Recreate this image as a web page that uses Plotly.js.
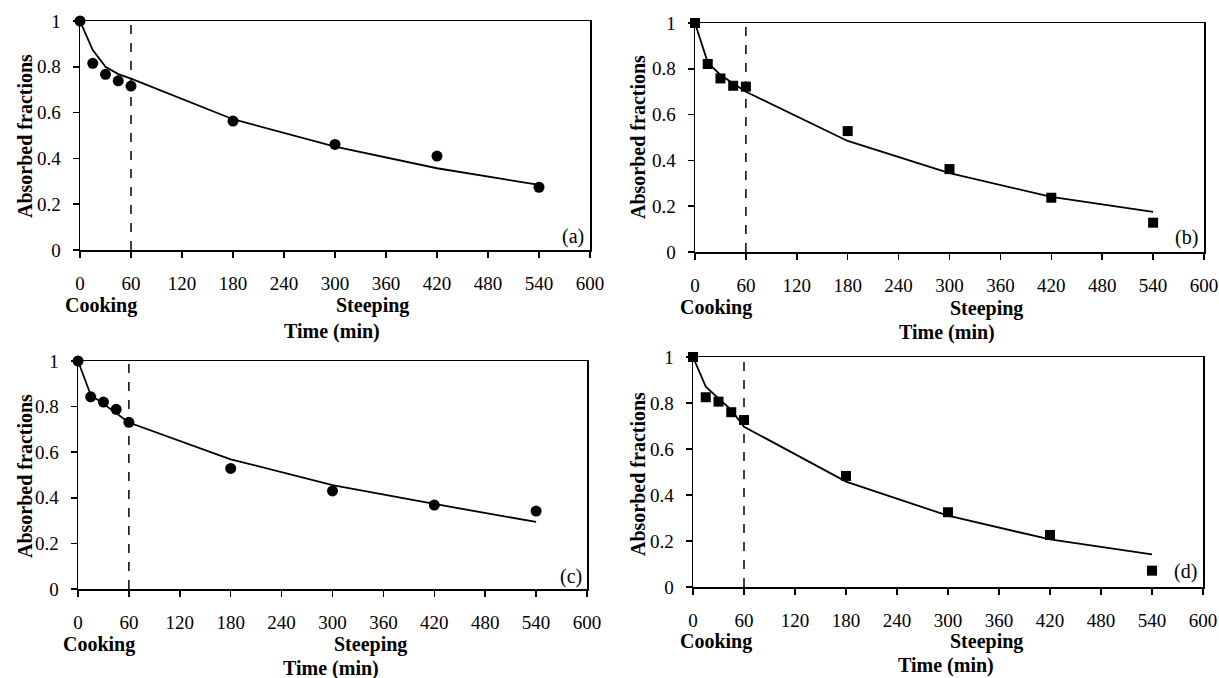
<!DOCTYPE html>
<html>
<head>
<meta charset="utf-8">
<script src="https://cdn.plot.ly/plotly-3.0.1.min.js"></script>
<style>html,body{margin:0;padding:0;background:#fff}#chart{width:1219px;height:678px}</style>
</head>
<body>
<div id="chart"></div>
<script>
// ---- data ----
const timeMin = [0, 15, 30, 45, 60, 180, 300, 420, 540];
const cookingEnd = 60;

const expA = [1, 0.815, 0.767, 0.739, 0.716, 0.563, 0.461, 0.410, 0.274];
const modA = [1, 0.873, 0.800, 0.768, 0.748, 0.571, 0.451, 0.357, 0.284];

const expB = [1, 0.821, 0.758, 0.726, 0.722, 0.528, 0.362, 0.237, 0.128];
const modB = [1, 0.827, 0.773, 0.737, 0.700, 0.485, 0.344, 0.241, 0.175];

const expC = [1, 0.843, 0.820, 0.788, 0.731, 0.529, 0.430, 0.368, 0.342];
const modC = [1, 0.851, 0.812, 0.772, 0.730, 0.569, 0.456, 0.373, 0.294];

const expD = [1, 0.825, 0.806, 0.760, 0.726, 0.483, 0.325, 0.226, 0.071];
const modD = [1, 0.871, 0.820, 0.770, 0.697, 0.458, 0.310, 0.207, 0.142];

const xTicks = [0, 60, 120, 180, 240, 300, 360, 420, 480, 540, 600];
const yTicks = [0, 0.2, 0.4, 0.6, 0.8, 1];
const yTickText = ["0", "0.2", "0.4", "0.6", "0.8", "1"];
const panelLabels = ["(a)", "(b)", "(c)", "(d)"];
const yTitle = "Absorbed fractions";
const xTitle = "Time (min)";
const phaseLabels = ["Cooking", "Steeping"];

// ---- layout geometry (pixels) ----
const W = 1219, H = 678;
const FONT = "Liberation Serif";
const panels = [
  {exp: expA, mod: modA, sym: "circle", size: 11, px: [80, 590], py: [21, 250],
   yt: [25, 136], cook: [101, 305], steep: [372, 305], time: [332, 331], lab: [573, 236]},
  {exp: expB, mod: modB, sym: "square", size: 10, px: [695, 1204], py: [23, 252],
   yt: [638, 137], cook: [716, 307], steep: [986, 308], time: [947, 332], lab: [1186, 237]},
  {exp: expC, mod: modC, sym: "circle", size: 11, px: [78, 587], py: [361, 589],
   yt: [25, 476], cook: [99, 644], steep: [370, 644], time: [331, 668], lab: [571, 576]},
  {exp: expD, mod: modD, sym: "square", size: 10, px: [693, 1203], py: [357, 587],
   yt: [638, 474], cook: [716, 641], steep: [986, 641], time: [946, 665], lab: [1185, 571]}
];

const traces = [];
const layout = {
  width: W, height: H,
  margin: {l: 0, r: 0, t: 0, b: 0},
  paper_bgcolor: "#fff", plot_bgcolor: "#fff",
  showlegend: false,
  font: {family: FONT, color: "#000", size: 19},
  shapes: [], annotations: []
};

function ann(text, xy, opts) {
  return Object.assign({
    text: text, xref: "paper", yref: "paper",
    x: xy[0] / W, y: 1 - xy[1] / H,
    xanchor: "center", yanchor: "middle", showarrow: false,
    font: {family: FONT, size: 20, color: "#000"}
  }, opts || {});
}

panels.forEach((p, i) => {
  const n = i + 1;
  const xa = "x" + (n === 1 ? "" : n), ya = "y" + (n === 1 ? "" : n);
  const xkey = "xaxis" + (n === 1 ? "" : n), ykey = "yaxis" + (n === 1 ? "" : n);
  traces.push({
    x: timeMin, y: p.mod, xaxis: xa, yaxis: ya, type: "scatter", mode: "lines",
    line: {color: "#000", width: 1.8}, cliponaxis: false, hoverinfo: "skip"
  });
  traces.push({
    x: timeMin, y: p.exp, xaxis: xa, yaxis: ya, type: "scatter", mode: "markers",
    marker: {symbol: p.sym, size: p.size, color: "#000"}, cliponaxis: false
  });
  layout[xkey] = {
    domain: [p.px[0] / W, p.px[1] / W], anchor: ya,
    range: [0, 600], tickmode: "array", tickvals: xTicks,
    ticks: "outside", ticklen: 6, tickwidth: 1.5, tickcolor: "#000",
    showline: true, linecolor: "#000", linewidth: 1.5, mirror: true,
    showgrid: false, zeroline: false, ticklabelstandoff: 10,
    tickfont: {family: FONT, size: 19, color: "#000"}
  };
  layout[ykey] = {
    domain: [1 - p.py[1] / H, 1 - p.py[0] / H], anchor: xa,
    range: [0, 1], tickmode: "array", tickvals: yTicks, ticktext: yTickText,
    ticks: "outside", ticklen: 6, tickwidth: 1.5, tickcolor: "#000",
    showline: true, linecolor: "#000", linewidth: 1.5, mirror: true,
    showgrid: false, zeroline: false, ticklabelstandoff: 8,
    tickfont: {family: FONT, size: 19, color: "#000"}
  };
  layout.shapes.push({
    type: "line", xref: xa, yref: ya, x0: cookingEnd, x1: cookingEnd, y0: 0, y1: 1,
    line: {color: "#000", width: 1.5, dash: "dash"}
  });
  layout.annotations.push(ann("<b>" + yTitle + "</b>", p.yt, {textangle: -90}));
  layout.annotations.push(ann("<b>" + phaseLabels[0] + "</b>", p.cook));
  layout.annotations.push(ann("<b>" + phaseLabels[1] + "</b>", p.steep));
  layout.annotations.push(ann("<b>" + xTitle + "</b>", p.time));
  layout.annotations.push(ann(panelLabels[i], p.lab, {font: {family: FONT, size: 20, color: "#000"}}));
});

Plotly.newPlot("chart", traces, layout, {displayModeBar: false, staticPlot: true});
</script>
</body>
</html>
